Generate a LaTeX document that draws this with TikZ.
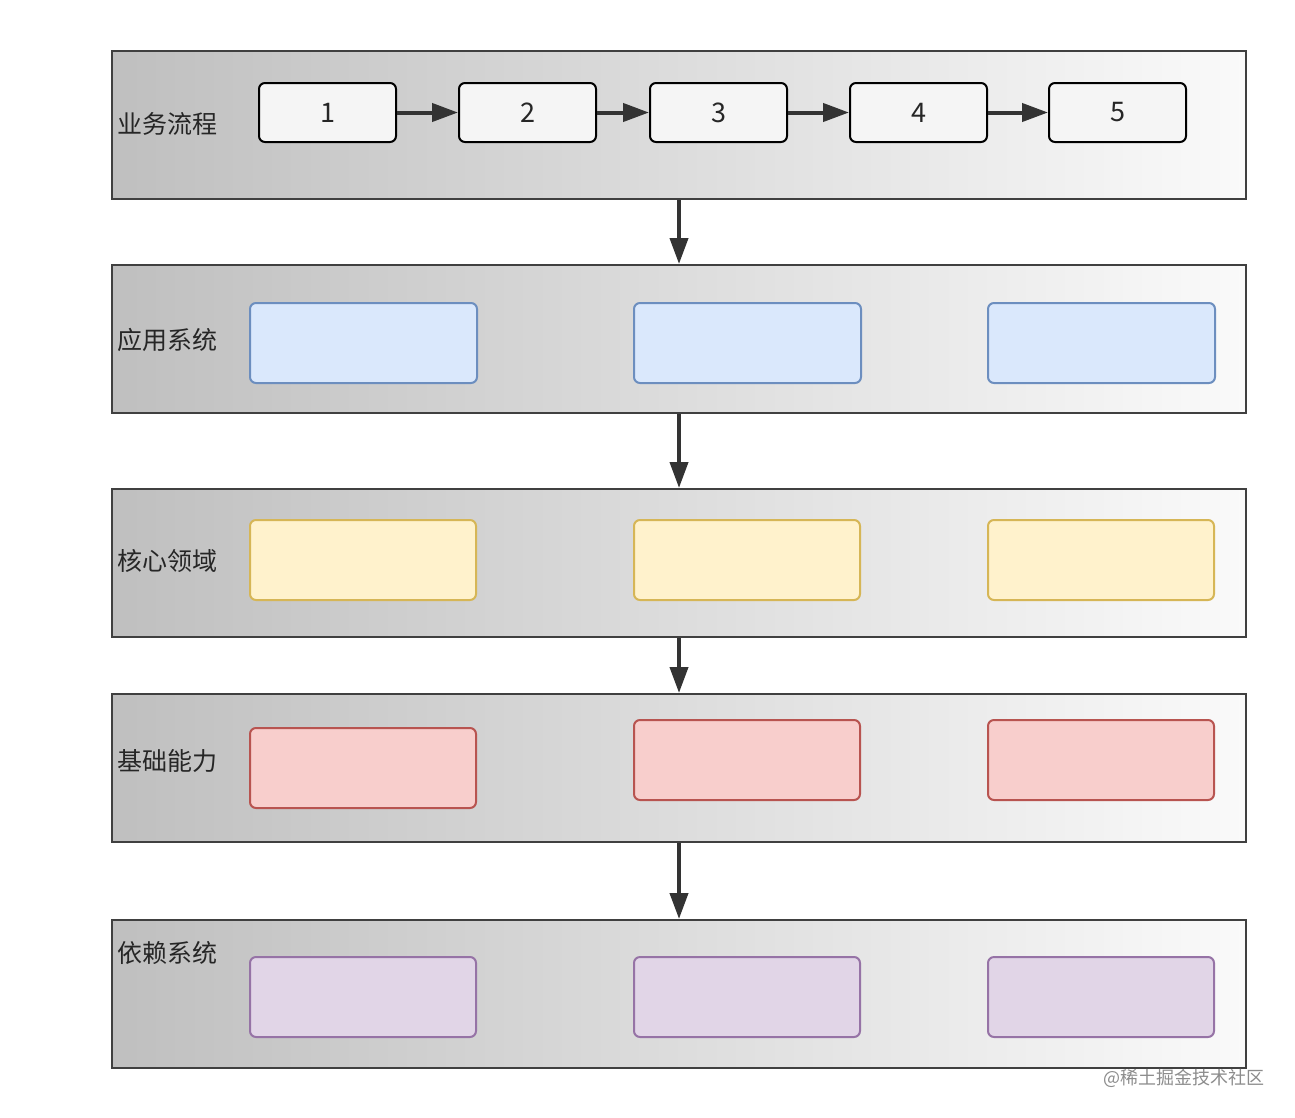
\documentclass[tikz,border=0pt]{standalone}
\usepackage{fontspec}
\setmainfont{Noto Sans CJK SC}
\usetikzlibrary{arrows.meta}
\definecolor{bF}{HTML}{DAE8FC}\definecolor{bD}{HTML}{6C8EBF}
\definecolor{yF}{HTML}{FFF2CC}\definecolor{yD}{HTML}{D6B656}
\definecolor{rF}{HTML}{F8CECC}\definecolor{rD}{HTML}{B85450}
\definecolor{pF}{HTML}{E1D5E7}\definecolor{pD}{HTML}{9673A6}
\begin{document}
\begin{tikzpicture}[x=1pt,y=-1pt,
  lane/.style={draw=black!75,line width=2pt,left color=black!25,right color=black!2,shading angle=90},
  stepbox/.style={draw=black,line width=2pt,rounded corners=6pt,fill=black!4},
  blu/.style={draw=bD,fill=bF,line width=2pt,rounded corners=6pt},
  yel/.style={draw=yD,fill=yF,line width=2pt,rounded corners=6pt},
  rd/.style={draw=rD,fill=rF,line width=2pt,rounded corners=6pt},
  pur/.style={draw=pD,fill=pF,line width=2pt,rounded corners=6pt},
  lbl/.style={anchor=west,font=\fontsize{25}{25}\selectfont,text=black!85},
  arr/.style={-{Triangle[length=26pt,width=18pt]},line width=4pt,draw=black!80}]
\useasboundingbox (0,0) rectangle (1295,1117);
\node[lane,minimum width=1134,minimum height=148,inner sep=0,anchor=north west] (L1) at (111,50) {};
\node[lane,minimum width=1134,minimum height=148,inner sep=0,anchor=north west] (L2) at (111,264) {};
\node[lane,minimum width=1134,minimum height=148,inner sep=0,anchor=north west] (L3) at (111,488) {};
\node[lane,minimum width=1134,minimum height=148,inner sep=0,anchor=north west] (L4) at (111,693) {};
\node[lane,minimum width=1134,minimum height=148,inner sep=0,anchor=north west] (L5) at (111,919) {};
\node[lbl] (t1) at (114,124) {业务流程};
\node[lbl] (t2) at (114,340) {应用系统};
\node[lbl] (t3) at (114,561) {核心领域};
\node[lbl] (t4) at (114,761) {基础能力};
\node[lbl] (t5) at (114,953) {依赖系统};
\foreach \i/\x in {1/258,2/458,3/649,4/849,5/1048}
  \node[stepbox,minimum width=137,minimum height=59,inner sep=0,anchor=north west] (s\i) at (\x,82) {};
\foreach \i in {1,...,5} \node[font=\fontsize{27}{27}\selectfont,text=black!85] (n\i) at (s\i) {\i};
\foreach \a/\b in {1/2,2/3,3/4,4/5} \draw[arr] (s\a.east) -- (s\b.west);
\foreach \i/\x in {1/249,2/633,3/987}{
  \node[blu,minimum width=227,minimum height=80,inner sep=0,anchor=north west] (b\i) at (\x,302) {};
  \node[yel,minimum width=226,minimum height=80,inner sep=0,anchor=north west] (y\i) at (\x,519) {};
  \node[pur,minimum width=226,minimum height=80,inner sep=0,anchor=north west] (p\i) at (\x,956) {};
}
\node[rd,minimum width=226,minimum height=80,inner sep=0,anchor=north west] (r1) at (249,727) {};
\node[rd,minimum width=226,minimum height=80,inner sep=0,anchor=north west] (r2) at (633,719) {};
\node[rd,minimum width=226,minimum height=80,inner sep=0,anchor=north west] (r3) at (987,719) {};
\draw[arr] (L1.south-|679,0) -- (L2.north-|679,0);
\draw[arr] (L2.south-|679,0) -- (L3.north-|679,0);
\draw[arr] (L3.south-|679,0) -- (L4.north-|679,0);
\draw[arr] (L4.south-|679,0) -- (L5.north-|679,0);
\node[anchor=east,font=\fontsize{18}{18}\selectfont,text=black!45] (wm) at (1268,1078) {@稀土掘金技术社区};
\end{tikzpicture}
\end{document}
